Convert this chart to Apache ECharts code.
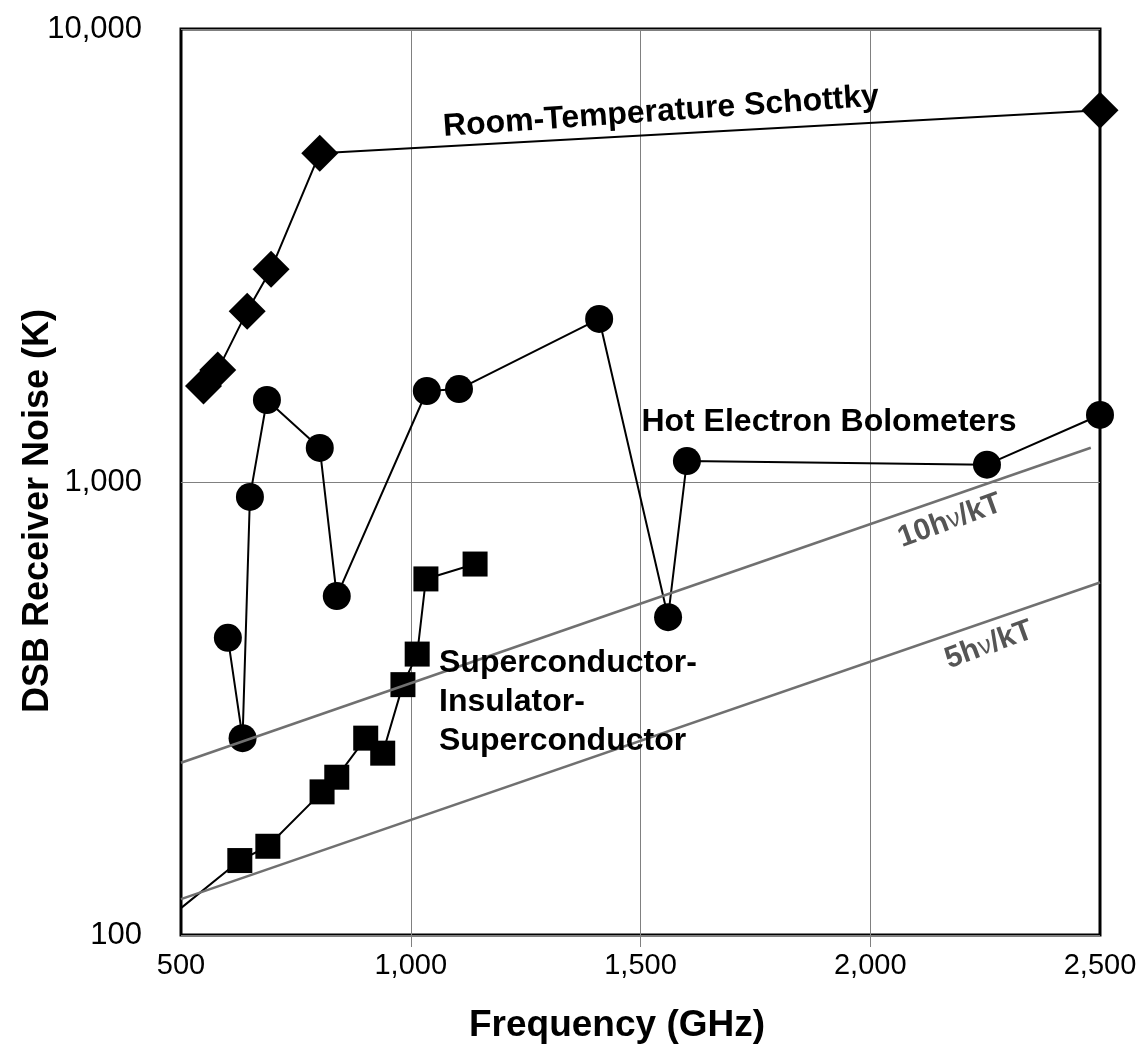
<!DOCTYPE html>
<html>
<head>
<meta charset="utf-8">
<script src="https://cdn.jsdelivr.net/npm/echarts@6/dist/echarts.min.js"></script>
<style>
html,body{margin:0;padding:0;background:#fff;}
#chart{width:1140px;height:1049px;}
</style>
</head>
<body>
<div id="chart"></div>
<script>
// ---- data ----
const xTicks = [500, 1000, 1500, 2000, 2500];
const yTicks = [100, 1000, 10000];

const schottkyFreq  = [549, 580, 644, 696, 802, 2500];
const schottkyNoise = [1630, 1766, 2383, 2950, 5320, 6620];

const hebFreq  = [602, 634, 650, 687, 802, 839, 1035, 1105, 1410, 1560, 1601, 2254, 2500];
const hebNoise = [453, 272, 927, 1517, 1189, 560, 1588, 1604, 2291, 503, 1112, 1092, 1406];

// first point is the start of the trend line (no marker)
const sisFreq  = [478, 628, 689, 807, 839, 902, 939, 983, 1014, 1033, 1140];
const sisNoise = [110, 146, 157, 207, 223, 272, 252, 357, 417, 611, 659];

const line10Freq  = [500, 2480];
const line10Noise = [240, 1190];
const line5Freq   = [500, 2500];
const line5Noise  = [120, 600];

function pairs(xs, ys) { return xs.map((x, i) => [x, ys[i]]); }
const fmt = v => Number(v).toLocaleString('en-US');
const FONT = '"Liberation Sans", Arial, sans-serif';

const chart = echarts.init(document.getElementById('chart'));

const blackLine = {color: '#000', width: 2};

chart.setOption({
  animation: false,
  textStyle: {fontFamily: FONT},
  grid: {left: 181, right: 40, top: 29, bottom: 114, show: true,
         borderColor: '#000', borderWidth: 3, backgroundColor: 'transparent'},
  xAxis: {
    type: 'value', min: 500, max: 2500, interval: 500,
    axisLine: {show: false},
    axisTick: {show: true, length: 12, inside: false, customValues: [1000, 1500, 2000],
               lineStyle: {color: '#808080', width: 1}},
    splitLine: {show: true, lineStyle: {color: '#808080', width: 1}},
    axisLabel: {fontSize: 29, color: '#000', margin: 16, formatter: fmt, fontFamily: FONT}
  },
  yAxis: {
    type: 'log', logBase: 10, min: 100, max: 10000,
    axisLine: {show: false},
    axisTick: {show: false},
    minorTick: {show: false},
    splitLine: {show: true, lineStyle: {color: '#808080', width: 1}},
    axisLabel: {fontSize: 31, color: '#000', margin: 39, formatter: fmt, fontFamily: FONT}
  },
  series: [
    {
      name: 'Room-Temperature Schottky', type: 'line', clip: false, z: 3,
      data: pairs(schottkyFreq, schottkyNoise),
      symbol: 'diamond', symbolSize: 37,
      itemStyle: {color: '#000'}, lineStyle: blackLine
    },
    {
      name: 'Hot Electron Bolometers', type: 'line', clip: false, z: 3,
      data: pairs(hebFreq, hebNoise),
      symbol: 'circle', symbolSize: 28,
      itemStyle: {color: '#000'}, lineStyle: blackLine
    },
    {
      name: 'SIS', type: 'line', clip: false, z: 3,
      data: pairs(sisFreq, sisNoise).map((p, i) => i === 0 ? {value: p, symbol: 'none'} : p),
      symbol: 'rect', symbolSize: 25,
      itemStyle: {color: '#000'}, lineStyle: blackLine
    },
    {
      name: '10hv/kT', type: 'line', clip: false, z: 5, symbol: 'none',
      data: pairs(line10Freq, line10Noise),
      lineStyle: {color: '#707070', width: 2.5}
    },
    {
      name: '5hv/kT', type: 'line', clip: false, z: 5, symbol: 'none',
      data: pairs(line5Freq, line5Noise),
      lineStyle: {color: '#707070', width: 2.5}
    }
  ],
  graphic: [
    // axis titles
    {type: 'text', x: 38, y: 511, rotation: Math.PI / 2, z: 10,
     style: {text: 'DSB Receiver Noise (K)', fill: '#000', font: 'bold 36px ' + FONT,
             align: 'center', verticalAlign: 'middle', textAlign: 'center', textVerticalAlign: 'middle'}},
    {type: 'text', x: 617, y: 1026, z: 10,
     style: {text: 'Frequency (GHz)', fill: '#000', font: 'bold 37px ' + FONT,
             align: 'center', verticalAlign: 'middle', textAlign: 'center', textVerticalAlign: 'middle'}},
    // annotations
    {type: 'text', x: 661, y: 112, rotation: 4 * Math.PI / 180, z: 10,
     style: {text: 'Room-Temperature Schottky', fill: '#000', font: 'bold 32px ' + FONT,
             align: 'center', verticalAlign: 'middle', textAlign: 'center', textVerticalAlign: 'middle'}},
    {type: 'text', x: 829, y: 422, z: 10,
     style: {text: 'Hot Electron Bolometers', fill: '#000', font: 'bold 32px ' + FONT,
             align: 'center', verticalAlign: 'middle', textAlign: 'center', textVerticalAlign: 'middle'}},
    {type: 'text', x: 439, y: 702, z: 10,
     style: {text: 'Superconductor-\nInsulator-\nSuperconductor', fill: '#000', font: 'bold 32px ' + FONT,
             lineHeight: 39,
             align: 'left', verticalAlign: 'middle', textAlign: 'left', textVerticalAlign: 'middle'}},
    {type: 'text', x: 950, y: 521, rotation: 20 * Math.PI / 180, z: 10,
     style: {text: '{a|10h}{b|ν}{a|/kT}', fill: '#555',
             rich: {a: {font: 'bold 30px ' + FONT, fill: '#555', color: '#555'},
                    b: {font: '26px ' + FONT, fill: '#555', color: '#555'}},
             align: 'center', verticalAlign: 'middle', textAlign: 'center', textVerticalAlign: 'middle'}},
    {type: 'text', x: 989, y: 645, rotation: 20 * Math.PI / 180, z: 10,
     style: {text: '{a|5h}{b|ν}{a|/kT}', fill: '#555',
             rich: {a: {font: 'bold 30px ' + FONT, fill: '#555', color: '#555'},
                    b: {font: '26px ' + FONT, fill: '#555', color: '#555'}},
             align: 'center', verticalAlign: 'middle', textAlign: 'center', textVerticalAlign: 'middle'}}
  ]
});
</script>
</body>
</html>
